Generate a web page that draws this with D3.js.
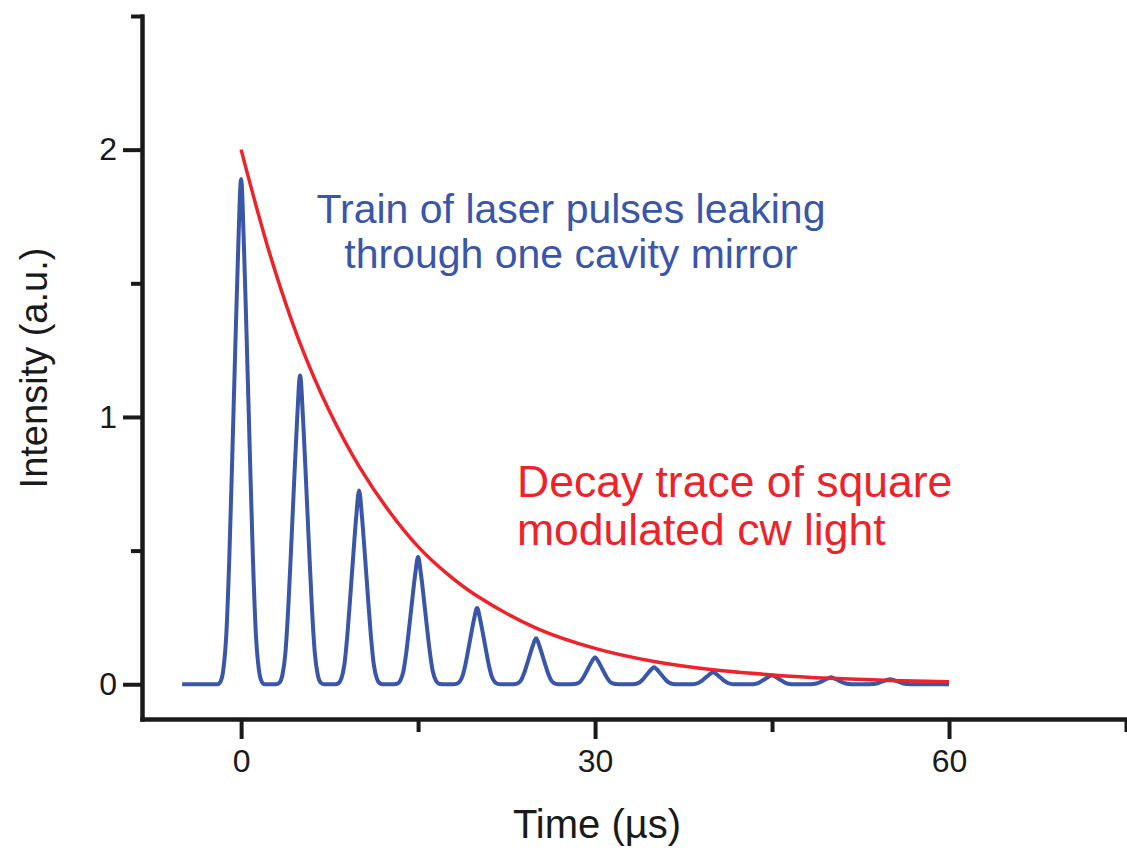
<!DOCTYPE html>
<html>
<head>
<meta charset="utf-8">
<script src="https://cdn.jsdelivr.net/npm/d3@7"></script>
<style>
  body { margin: 0; background: #fff; }
  svg text { font-family: "Liberation Sans", Arial, Helvetica, sans-serif; }
</style>
</head>
<body>
<div id="chart"></div>
<script>
// pulse train: times and peak heights
var pulseTimes = [0, 5, 10, 15, 20, 25, 30, 35, 40, 45, 50, 55];
var pulseHeights = [1.89, 1.155, 0.725, 0.476, 0.285, 0.172, 0.101, 0.064, 0.045, 0.034, 0.026, 0.019];
// normalised shape of one pulse (offset in µs, relative height)
var profileOffsets = [-2, -1.75, -1.5, -1.25, -1, -0.75, -0.5, -0.25, 0, 0.25, 0.5, 0.75, 1, 1.25, 1.5, 1.75, 2];
var profileValues = [0, 0.005, 0.03, 0.1, 0.25, 0.45, 0.66, 0.86, 1, 0.86, 0.66, 0.45, 0.25, 0.1, 0.03, 0.005, 0];
var traceStart = -5, traceEnd = 60;

// decay of the cw light
var decayTimes = [0, 2.5, 5, 7.5, 10, 12.5, 15, 17.5, 20, 25, 30, 35, 40, 45, 50, 55, 60];
var decayValues = [2.0, 1.6, 1.275, 1.02, 0.815, 0.65, 0.515, 0.412, 0.33, 0.21, 0.134, 0.085, 0.054, 0.035, 0.022, 0.014, 0.009];

var xMajor = [0, 30, 60], xMinor = [15, 45, 75];
var yMajor = [0, 1, 2], yMinor = [0.5, 1.5, 2.5];

var width = 1127, height = 857,
  blue = "#3a56a8",
  red = "#ee2229",
  ink = "#1a1a1a";

var svg = d3.select("#chart").append("svg")
  .attr("width", width)
  .attr("height", height);

var x = d3.scaleLinear().domain([-8.4, 75]).range([142, 1126]);
var y = d3.scaleLinear().domain([-0.13, 2.5]).range([719, 16]);

// build the pulse trace from the data
var pulseData = [[traceStart, 0]];
pulseTimes.forEach(function(t, i) {
  profileOffsets.forEach(function(o, j) {
    pulseData.push([t + o, pulseHeights[i] * profileValues[j]]);
  });
});
pulseData.push([traceEnd, 0]);

var decayData = decayTimes.map(function(t, i) { return [t, decayValues[i]]; });

var line = d3.line()
  .x(function(d) { return x(d[0]); })
  .y(function(d) { return y(d[1]); })
  .curve(d3.curveMonotoneX);

svg.append("path")
  .datum(pulseData)
  .attr("d", line)
  .attr("fill", "none")
  .attr("stroke", blue)
  .attr("stroke-width", 4)
  .attr("stroke-linejoin", "round");

svg.append("path")
  .datum(decayData)
  .attr("d", line.curve(d3.curveCatmullRom))
  .attr("fill", "none")
  .attr("stroke", red)
  .attr("stroke-width", 3.5);

// axes
function styleAxis(g) {
  g.select(".domain").attr("stroke", ink).attr("stroke-width", 4).attr("stroke-linecap", "square");
  g.selectAll(".tick line").attr("stroke", ink).attr("stroke-width", 4);
  g.selectAll(".tick text").attr("fill", ink).style("font-size", "32px");
}

svg.append("g")
  .attr("transform", "translate(0," + 719 + ")")
  .call(d3.axisBottom(x).tickValues(xMinor).tickSize(13).tickSizeOuter(0).tickFormat(""))
  .call(styleAxis);

svg.append("g")
  .attr("transform", "translate(0," + 719 + ")")
  .call(d3.axisBottom(x).tickValues(xMajor).tickSize(20).tickSizeOuter(0).tickPadding(10).tickFormat(d3.format("d")))
  .call(styleAxis);

svg.append("g")
  .attr("transform", "translate(" + 142 + ",0)")
  .call(d3.axisLeft(y).tickValues(yMinor).tickSize(11).tickSizeOuter(0).tickFormat(""))
  .call(styleAxis);

svg.append("g")
  .attr("transform", "translate(" + 142 + ",0)")
  .call(d3.axisLeft(y).tickValues(yMajor).tickSize(19).tickSizeOuter(0).tickPadding(6).tickFormat(d3.format("d")))
  .call(styleAxis);

// axis titles
svg.append("text")
  .attr("transform", "translate(47,368) rotate(-90)")
  .attr("text-anchor", "middle")
  .attr("fill", ink)
  .style("font-size", "38px")
  .text("Intensity (a.u.)");

svg.append("text")
  .attr("x", 597)
  .attr("y", 838)
  .attr("text-anchor", "middle")
  .attr("fill", ink)
  .style("font-size", "40px")
  .text("Time (\u00b5s)");

// annotations
var blueNote = svg.append("text")
  .attr("text-anchor", "middle")
  .attr("fill", blue)
  .style("font-size", "41px");
blueNote.append("tspan").attr("x", 571).attr("y", 223).text("Train of laser pulses leaking");
blueNote.append("tspan").attr("x", 571).attr("y", 268).text("through one cavity mirror");

var redNote = svg.append("text")
  .attr("fill", red)
  .style("font-size", "44.5px");
redNote.append("tspan").attr("x", 517).attr("y", 497).text("Decay trace of square");
redNote.append("tspan").attr("x", 517).attr("y", 545).text("modulated cw light");
</script>
</body>
</html>
